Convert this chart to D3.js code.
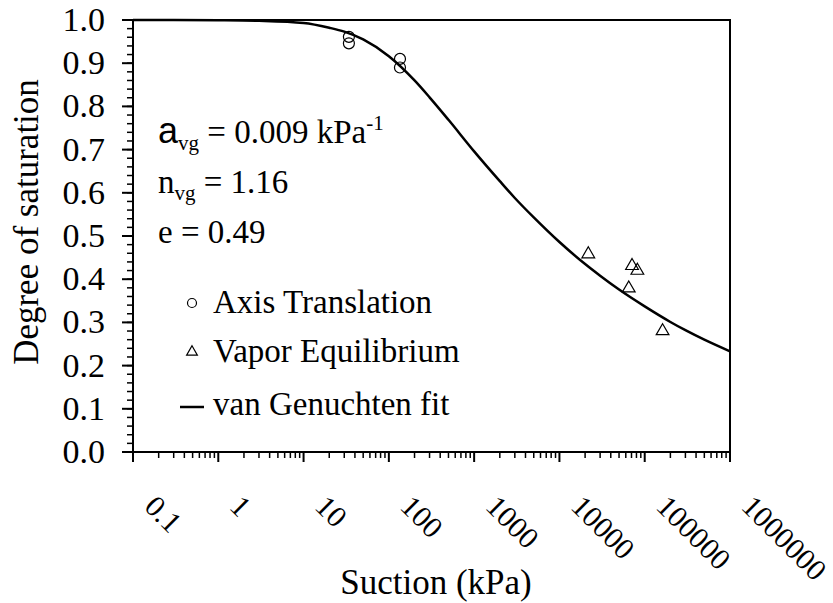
<!DOCTYPE html>
<html>
<head>
<meta charset="utf-8">
<script src="https://cdn.jsdelivr.net/npm/d3@7"></script>
</head>
<body style="margin:0">
<svg width="833" height="603"></svg>
<script>
// datos
const axisSuction = [34, 34, 135, 135];
const axisSat = [0.961, 0.946, 0.910, 0.890];

const vaporSuction = [21800, 71000, 82000, 65000, 162000];
const vaporSat = [0.458, 0.431, 0.420, 0.379, 0.280];

const fitSuction = [0.1, 0.3, 1, 3, 10, 20, 30, 50, 100, 200, 300, 500, 1000, 2000, 3000, 5000,
  10000, 20000, 30000, 50000, 100000, 200000, 300000, 500000, 1000000];
const fitSat = [1.0, 0.9999, 0.9994, 0.998, 0.993, 0.982, 0.973, 0.955, 0.916, 0.860, 0.821, 0.769,
  0.696, 0.627, 0.588, 0.543, 0.486, 0.435, 0.408, 0.376, 0.337, 0.301, 0.282, 0.260, 0.233];

const xTickLabels = ["0.1", "1", "10", "100", "1000", "10000", "100000", "1000000"];
const yTickLabels = ["0.0", "0.1", "0.2", "0.3", "0.4", "0.5", "0.6", "0.7", "0.8", "0.9", "1.0"];

const fuente = "Liberation Serif";

const svg = d3.select("svg");
const plotLeft = 133, plotRight = 730, plotTop = 20, plotBottom = 452;

const x = d3.scaleLog().domain([0.1, 1000000]).range([plotLeft, plotRight]);
const y = d3.scaleLinear().domain([0, 1]).range([plotBottom, plotTop]);

// texto con la fuente serif
function texto(sel) {
  return sel.append("text").style("font-family", fuente).attr("fill", "#000");
}

// ticks del eje x (mayores y menores)
const xMajor = xTickLabels.map(Number);
const xMinor = [];
xMajor.slice(0, -1).forEach(d => {
  for (let k = 2; k <= 9; k++) xMinor.push(d * k);
});

svg.selectAll(".xminor").data(xMinor).enter().append("line")
    .attr("x1", d => x(d)).attr("x2", d => x(d))
    .attr("y1", plotBottom).attr("y2", plotBottom + 6)
    .attr("stroke", "#000").attr("stroke-width", 1.5);

svg.selectAll(".xmajor").data(xMajor).enter().append("line")
    .attr("x1", d => x(d)).attr("x2", d => x(d))
    .attr("y1", plotBottom).attr("y2", plotBottom + 10)
    .attr("stroke", "#000").attr("stroke-width", 2);

xTickLabels.forEach(d => {
  texto(svg)
      .attr("transform", "translate(" + (x(+d) + 10) + "," + (plotBottom + 56) + ") rotate(45)")
      .attr("font-size", 30)
      .text(d);
});

// ticks del eje y
const yMinor = d3.range(0, 51).map(i => i / 50);
svg.selectAll(".yminor").data(yMinor).enter().append("line")
    .attr("x1", plotLeft - 6).attr("x2", plotLeft)
    .attr("y1", d => y(d)).attr("y2", d => y(d))
    .attr("stroke", "#000").attr("stroke-width", 1.5);

svg.selectAll(".ymajor").data(yTickLabels).enter().append("line")
    .attr("x1", plotLeft - 11).attr("x2", plotLeft)
    .attr("y1", d => y(+d)).attr("y2", d => y(+d))
    .attr("stroke", "#000").attr("stroke-width", 2);

yTickLabels.forEach(d => {
  texto(svg)
      .attr("x", 105)
      .attr("y", y(+d) + 11)
      .attr("text-anchor", "end")
      .attr("font-size", 34)
      .text(d);
});

// marco del area de grafico
svg.append("rect")
    .attr("x", plotLeft).attr("y", plotTop)
    .attr("width", plotRight - plotLeft).attr("height", plotBottom - plotTop)
    .attr("fill", "none").attr("stroke", "#000").attr("stroke-width", 2);

// titulos de ejes
texto(svg)
    .attr("x", 436).attr("y", 594)
    .attr("text-anchor", "middle")
    .attr("font-size", 35)
    .text("Suction (kPa)");

texto(svg)
    .attr("transform", "translate(38,222) rotate(-90)")
    .attr("text-anchor", "middle")
    .attr("font-size", 35)
    .text("Degree of saturation");

// curva de van Genuchten
const fitData = fitSuction.map((s, i) => ({ s: s, v: fitSat[i] }));
const linea = d3.line()
    .x(d => x(d.s))
    .y(d => y(d.v))
    .curve(d3.curveMonotoneX);

svg.append("path")
    .datum(fitData)
    .attr("d", linea)
    .attr("fill", "none")
    .attr("stroke", "#000")
    .attr("stroke-width", 2.5);

// puntos: traslacion de ejes
svg.selectAll(".circ").data(axisSuction).enter().append("circle")
    .attr("cx", d => x(d))
    .attr("cy", (d, i) => y(axisSat[i]))
    .attr("r", 5.5)
    .attr("fill", "none")
    .attr("stroke", "#000")
    .attr("stroke-width", 1.2);

// puntos: equilibrio de vapor
const tri = d3.symbol().type(d3.symbolTriangle).size(70);
svg.selectAll(".tri").data(vaporSuction).enter().append("path")
    .attr("d", tri)
    .attr("transform", (d, i) => "translate(" + x(d) + "," + y(vaporSat[i]) + ")")
    .attr("fill", "none")
    .attr("stroke", "#000")
    .attr("stroke-width", 1.2);

// parametros del ajuste
const p1 = texto(svg).attr("x", 158).attr("y", 143).attr("font-size", 33);
p1.append("tspan").style("font-family", "Liberation Sans").attr("font-size", 36).text("a");
p1.append("tspan").attr("font-size", 21).attr("dy", 7).text("vg");
p1.append("tspan").attr("dy", -7).text(" = 0.009 kPa");
p1.append("tspan").attr("font-size", 21).attr("dy", -13).text("-1");

const p2 = texto(svg).attr("x", 158).attr("y", 193).attr("font-size", 33);
p2.append("tspan").text("n");
p2.append("tspan").attr("font-size", 21).attr("dy", 7).text("vg");
p2.append("tspan").attr("dy", -7).text(" = 1.16");

texto(svg).attr("x", 158).attr("y", 243).attr("font-size", 33).text("e = 0.49");

// leyenda
svg.append("circle").attr("cx", 192).attr("cy", 303).attr("r", 4.5)
    .attr("fill", "none").attr("stroke", "#000").attr("stroke-width", 1.2);
texto(svg).attr("x", 213).attr("y", 313).attr("font-size", 33).text("Axis Translation");

svg.append("path").attr("d", d3.symbol().type(d3.symbolTriangle).size(50))
    .attr("transform", "translate(192,352)")
    .attr("fill", "none").attr("stroke", "#000").attr("stroke-width", 1.2);
texto(svg).attr("x", 213).attr("y", 362).attr("font-size", 33).text("Vapor Equilibrium");

svg.append("line").attr("x1", 180).attr("x2", 204).attr("y1", 407).attr("y2", 407)
    .attr("stroke", "#000").attr("stroke-width", 2.5);
texto(svg).attr("x", 213).attr("y", 415).attr("font-size", 33).text("van Genuchten fit");
</script>
</body>
</html>
